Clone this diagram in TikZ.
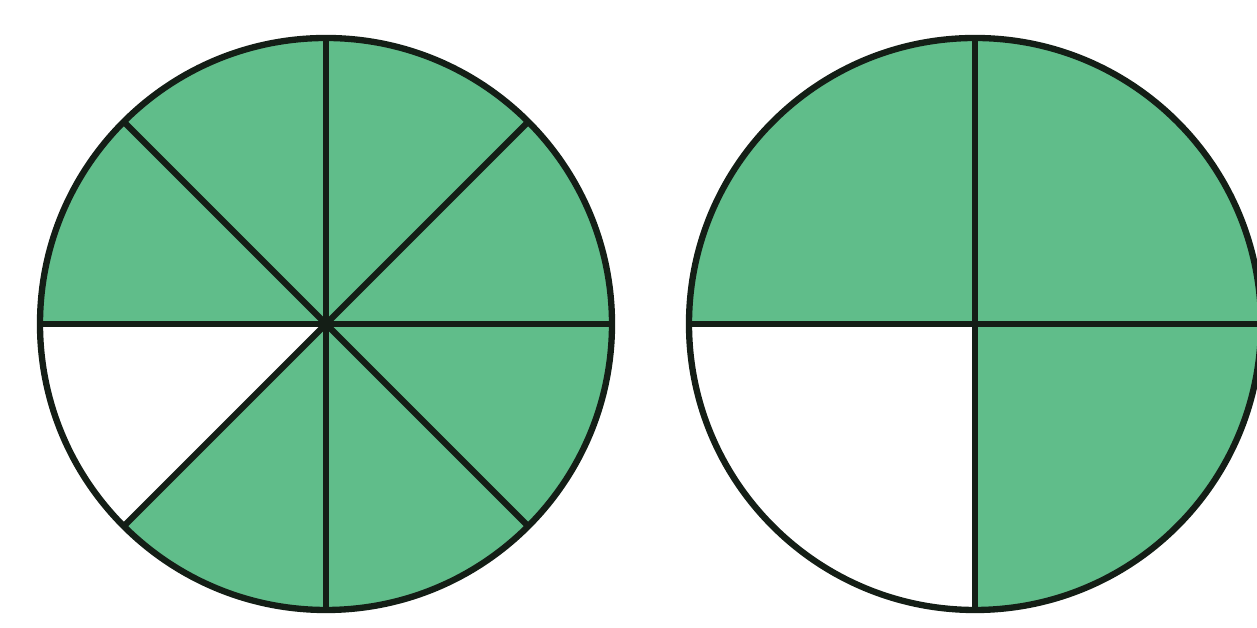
\documentclass[tikz,border=0pt]{standalone}
\usetikzlibrary{calc}
\definecolor{piegreen}{RGB}{96,189,138}
\definecolor{pieline}{RGB}{20,30,22}
\begin{document}
\begin{tikzpicture}[x=0.01cm,y=0.01cm,line width=1.8pt]
  \useasboundingbox (0,0) rectangle (1257,628);
  % eighths
  \coordinate (left) at (326,304);
  \foreach \a in {0,45,90,135,225,270,315}
    \fill[piegreen] (left) -- ++(\a:286) arc[start angle=\a,end angle=\a+45,radius=286] -- cycle;
  \foreach \a in {0,45,90,135}
    \draw[pieline] ($(left)+(\a:286)$) -- ($(left)+(\a+180:286)$);
  \draw[pieline] (left) circle[radius=286];
  % quarters
  \coordinate (right) at (975,304);
  \foreach \a in {0,90,270}
    \fill[piegreen] (right) -- ++(\a:286) arc[start angle=\a,end angle=\a+90,radius=286] -- cycle;
  \foreach \a in {0,90}
    \draw[pieline] ($(right)+(\a:286)$) -- ($(right)+(\a+180:286)$);
  \draw[pieline] (right) circle[radius=286];
\end{tikzpicture}
\end{document}
